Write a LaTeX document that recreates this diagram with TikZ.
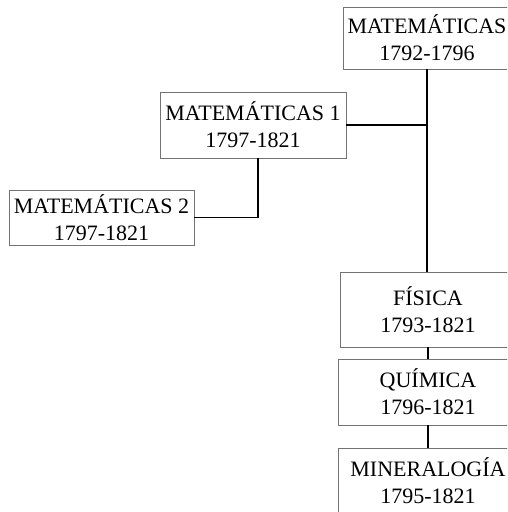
\documentclass[tikz,border=0pt]{standalone}
\usepackage{fontspec}
\setmainfont{Liberation Serif}
\usetikzlibrary{positioning, calc}

\begin{document}
\begin{tikzpicture}[
    x=1pt, y=-1pt,
    unit/.style={draw=black!55, line width=0.7pt, align=center, inner sep=0pt,
                 font=\fontsize{22}{27}\selectfont},
    link/.style={line width=1.5pt}
]
\useasboundingbox (0,0) rectangle (507,512);
\clip (0,0) rectangle (507,512);
% Main branch on the right, boxes run off the page edge
\node[unit, minimum width=168, minimum height=62] (mat) at (427,38) {MATEMÁTICAS\\1792-1796};
\node[unit, minimum width=176, minimum height=75] (fis) at (428,309.5) {FÍSICA\\1793-1821};
\node[unit, minimum width=180, minimum height=66] (qui) at (428,392) {QUÍMICA\\1796-1821};
\node[unit, minimum width=180, minimum height=66] (min) at (428,481) {MINERALOGÍA\\1795-1821};
% Side branch on the left
\node[unit, minimum width=186, minimum height=66] (mat1) at (253,125) {MATEMÁTICAS 1\\1797-1821};
\node[unit, minimum width=185, minimum height=55] (mat2) at (101.5,217.5) {MATEMÁTICAS 2\\1797-1821};
% Connectors
\coordinate (j1) at (mat.south |- mat1.east);
\draw[link] (mat.south) -- (mat.south |- fis.north);
\draw[link] (mat1.east) -- (j1);
\draw[link] ($(mat1.south)+(5,0)$) |- (mat2.east);
\draw[link] (fis.south) -- (qui.north);
\draw[link] (qui.south) -- (min.north);
\end{tikzpicture}
\end{document}
